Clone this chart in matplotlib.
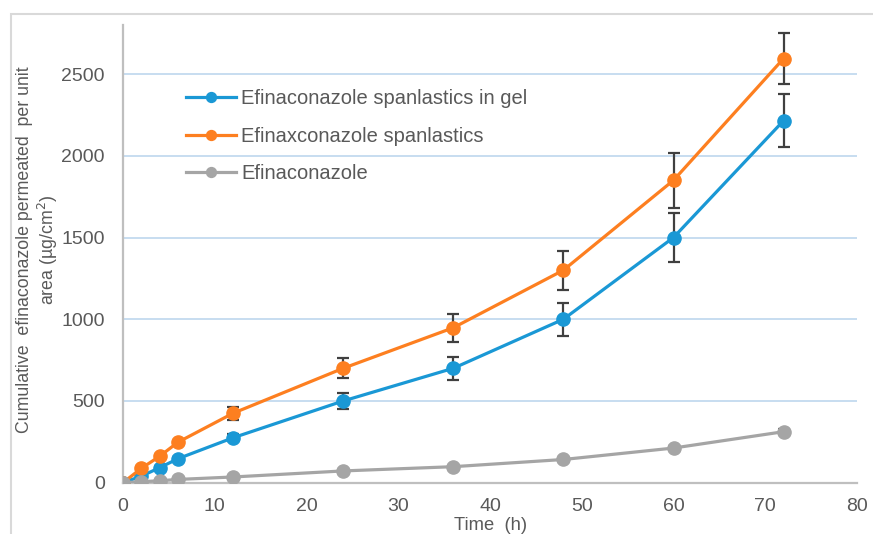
import numpy as np
import matplotlib.pyplot as plt
from matplotlib.patches import Rectangle

plt.rcParams['font.family'] = ['Liberation Sans', 'DejaVu Sans']

# data
time_h = [0, 2, 4, 6, 12, 24, 36, 48, 60, 72]
gel = [0, 40, 92, 147, 275, 500, 700, 1000, 1500, 2215]
gel_err = [0, 0, 10, 12, 20, 50, 70, 100, 150, 160]
spanl = [0, 88, 162, 248, 425, 700, 948, 1300, 1850, 2595]
spanl_err = [0, 0, 0, 0, 40, 60, 85, 120, 170, 155]
plain = [0, 6, 12, 20, 35, 72, 98, 142, 212, 312]
plain_err = [0, 0, 0, 0, 0, 0, 0, 0, 15, 15]

labels = ['Efinaconazole spanlastics in gel',
          'Efinaxconazole spanlastics',
          'Efinaconazole']
colors = ['#1a98d5', '#fd7f20', '#a5a5a5']
text_col = '#595959'

fig = plt.figure(figsize=(8.73, 5.34), dpi=100)
ax = fig.add_axes([123 / 873, 1 - 482.7 / 534, (857 - 123) / 873, (482.7 - 25) / 534])

# outer frame
fig.patches.append(Rectangle((11 / 873, -0.05), 1.0, 1 - 14 / 534 + 0.05,
                             transform=fig.transFigure, fill=False,
                             ec='#d9d9d9', lw=1.5, zorder=0))

for y, err, c, lab in zip([gel, spanl, plain], [gel_err, spanl_err, plain_err], colors, labels):
    ax.errorbar(time_h, y, yerr=err, fmt='none', ecolor='#404040',
                elinewidth=1.6, capsize=4.5, capthick=1.6, zorder=3)
    ax.plot(time_h, y, color=c, lw=2.3, marker='o', markersize=9.5,
            label=lab, zorder=4)

ax.set_xlim(0, 80)
ax.set_ylim(0, 2800)
ax.set_xticks(np.arange(0, 81, 10))
ax.set_yticks(np.arange(0, 2501, 500))
ax.grid(axis='y', color='#bdd7ee', lw=1.2, zorder=0)
ax.set_axisbelow(True)
ax.tick_params(length=0, labelsize=14, labelcolor=text_col)
ax.tick_params(axis='y', pad=13)
ax.tick_params(axis='x', pad=11)
for s in ['top', 'right']:
    ax.spines[s].set_visible(False)
for s in ['left', 'bottom']:
    ax.spines[s].set_color('#bfbfbf')
    ax.spines[s].set_linewidth(1.6)

fig.text(491 / 873, 1 - 525 / 534, 'Time  (h)', ha='center', va='center',
         fontsize=13.2, color=text_col)
fig.text(38 / 873, 0.532, 'Cumulative  efinaconazole permeated  per unit\narea (µg/cm$^2$)',
         rotation=90, ha='center', va='center', multialignment='center',
         fontsize=12.8, color=text_col, linespacing=1.12)

leg = ax.legend(loc='upper left', bbox_to_anchor=(176 / 873, 1 - 79 / 534),
                bbox_transform=fig.transFigure, frameon=False, fontsize=14.5,
                handlelength=2.5, handletextpad=0.25, labelspacing=0.92,
                borderpad=0, markerscale=0.75)
for t in leg.get_texts():
    t.set_color(text_col)

fig.savefig('out.png', dpi=100)
